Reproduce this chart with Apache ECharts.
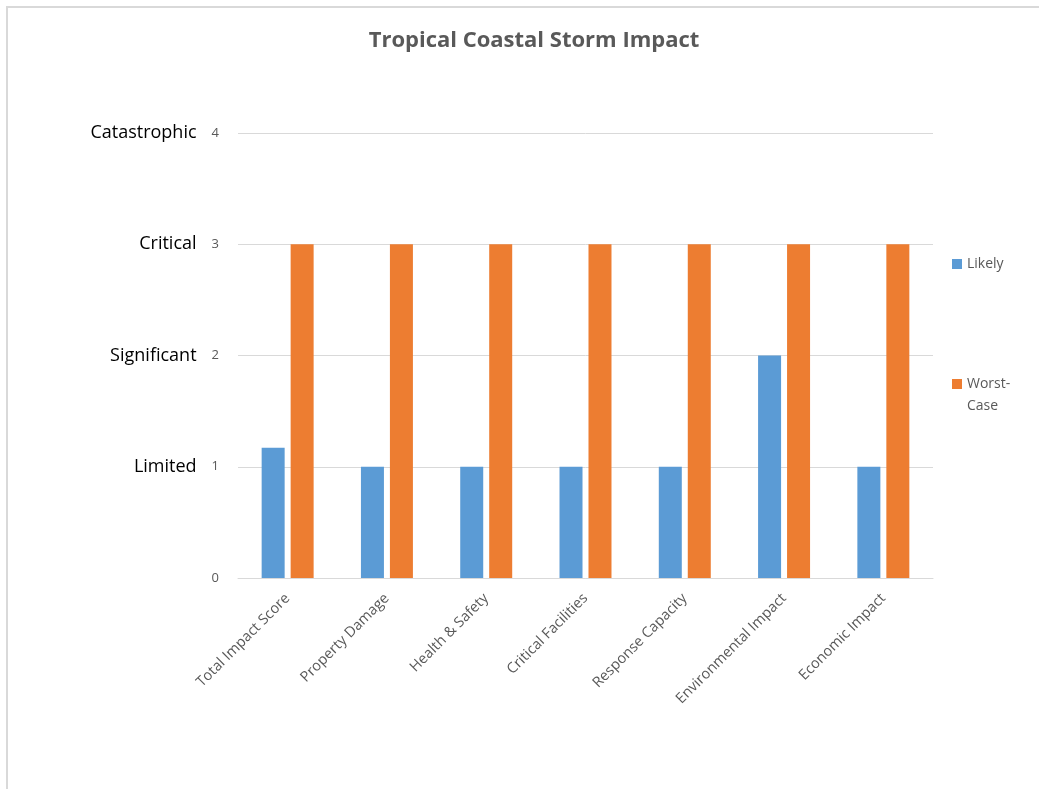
<!DOCTYPE html>
<html>
<head>
<meta charset="utf-8">
<title>Tropical Coastal Storm Impact</title>
<script src="https://cdn.jsdelivr.net/npm/echarts@6/dist/echarts.min.js"></script>
<style>
  html, body { margin: 0; padding: 0; background: #fff; }
  #frame { position: absolute; left: 6px; top: 6px; width: 1040px; height: 790px;
           border-left: 2px solid #d9d9d9; border-top: 2px solid #d9d9d9; box-sizing: border-box; }
  #chart { position: absolute; left: 0; top: 0; width: 1039px; height: 789px; }
</style>
</head>
<body>
<div id="frame"></div>
<div id="chart"></div>
<script>
// Impact categories along the horizontal axis
const categories = [
  'Total Impact Score', 'Property Damage', 'Health & Safety', 'Critical Facilities',
  'Response Capacity', 'Environmental Impact', 'Economic Impact'
];
// Severity scores per scenario
const likely = [1.17, 1, 1, 1, 1, 2, 1];
const worstCase = [3, 3, 3, 3, 3, 3, 3];
// Severity names for each score level on the value axis
const severityNames = ['', 'Limited', 'Significant', 'Critical', 'Catastrophic'];

const FONT = '"Open Sans", "Liberation Sans", sans-serif';
const chart = echarts.init(document.getElementById('chart'));

chart.setOption({
  backgroundColor: 'transparent',
  animation: false,
  title: {
    text: 'Tropical Coastal Storm Impact',
    left: 529,
    textAlign: 'center',
    top: 25,
    textStyle: { fontFamily: FONT, fontSize: 22, fontWeight: 'bold', color: '#595959' }
  },
  legend: [
    {
      data: ['Likely'],
      orient: 'vertical',
      left: 947,
      top: 252,
      itemWidth: 10,
      itemHeight: 10,
      icon: 'rect',
      textStyle: { fontFamily: FONT, fontSize: 14, color: '#595959' }
    },
    {
      data: ['Worst-Case'],
      orient: 'vertical',
      left: 947,
      top: 346,
      itemWidth: 10,
      itemHeight: 10,
      icon: 'rect',
      formatter: function () { return ' \nWorst-\nCase'; },
      textStyle: { fontFamily: FONT, fontSize: 14, color: '#595959', lineHeight: 22 }
    }
  ],
  grid: { left: 238, right: 106, top: 133, bottom: 211, containLabel: false },
  xAxis: {
    type: 'category',
    data: categories,
    axisTick: { show: false },
    axisLine: { lineStyle: { color: '#d9d9d9', width: 1 } },
    axisLabel: {
      rotate: 45,
      interval: 0,
      margin: 18,
      fontFamily: FONT,
      fontSize: 14.5,
      color: '#595959'
    }
  },
  yAxis: {
    type: 'value',
    min: 0,
    max: 4,
    interval: 1,
    axisLine: { show: false },
    axisTick: { show: false },
    splitLine: { lineStyle: { color: '#d9d9d9', width: 1 } },
    axisLabel: {
      margin: 19,
      formatter: function (v) {
        const name = severityNames[v] || '';
        return (name ? '{name|' + name + '}' : '') + '{num|' + v + '}';
      },
      rich: {
        name: { fontFamily: FONT, fontSize: 18, color: '#000000', padding: [0, 15, 0, 0] },
        num: { fontFamily: FONT, fontSize: 13, color: '#595959' }
      }
    }
  },
  series: [
    {
      name: 'Likely',
      type: 'bar',
      data: likely,
      barWidth: 23,
      barGap: '26%',
      itemStyle: { color: '#5b9bd5' }
    },
    {
      name: 'Worst-Case',
      type: 'bar',
      data: worstCase,
      barWidth: 23,
      itemStyle: { color: '#ed7d31' }
    }
  ]
});
</script>
</body>
</html>
